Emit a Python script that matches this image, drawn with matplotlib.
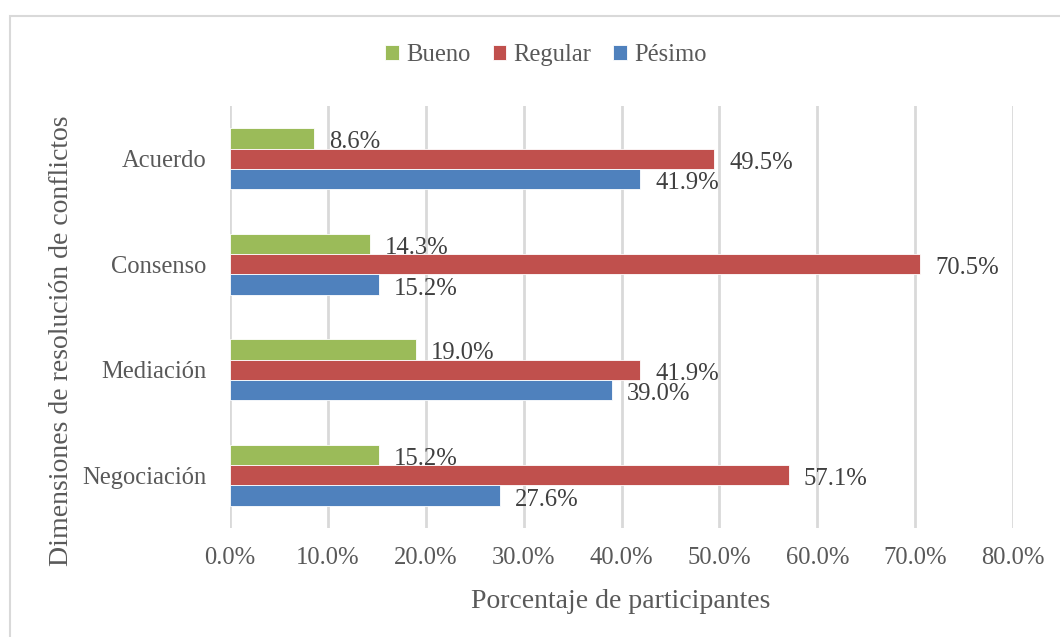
import matplotlib
matplotlib.use("Agg")
import matplotlib.pyplot as plt
import matplotlib.patches as mpatches
import numpy as np

plt.rcParams["font.family"] = ["Liberation Serif", "DejaVu Serif"]

categories = ["Acuerdo", "Consenso", "Mediación", "Negociación"]
series_names = ["Bueno", "Regular", "Pésimo"]
bueno = [8.6, 14.3, 19.0, 15.2]
regular = [49.5, 70.5, 41.9, 57.1]
pesimo = [41.9, 15.2, 39.0, 27.6]
xticks = [0, 10, 20, 30, 40, 50, 60, 70, 80]

colors = ["#9BBB59", "#C0504D", "#4F81BD"]
text_col = "#595959"
grid_col = "#D9D9D9"

fig = plt.figure(figsize=(10.6, 6.37), dpi=100)
ax = fig.add_axes([230 / 1060, 1 - 528 / 637, (1013 - 230) / 1060, (528 - 106) / 637])

# outer chart border (cropped on the right and bottom)
fig.patches.append(mpatches.Rectangle((10 / 1060, -0.1), 1.2, 1.1 - 16 / 637,
                                      transform=fig.transFigure, fill=False,
                                      edgecolor=grid_col, linewidth=1.5))

y = np.arange(len(categories))
h = 0.194
for vals, name, col, off in zip([bueno, regular, pesimo], series_names, colors, [-h, 0, h]):
    bars = ax.barh(y + off, vals, height=h, color=col, edgecolor="white",
                   linewidth=0.6, label=name, zorder=3)
    for b, v in zip(bars, vals):
        ax.annotate(f"{v:.1f}%", (b.get_width(), b.get_y() + b.get_height() / 2),
                    xytext=(15, -4), textcoords="offset pixels",
                    ha="left", va="center", fontsize=17.7, color="#404040", zorder=4)

ax.set_xlim(0, 80)
ax.set_ylim(3.5, -0.5)
ax.set_xticks(xticks)
ax.set_xticklabels([f"{t:.1f}%" for t in xticks])
ax.set_yticks(y)
ax.set_yticklabels(categories)
ax.tick_params(axis="both", length=0, labelsize=17.7, colors=text_col)
ax.tick_params(axis="x", pad=14)
ax.tick_params(axis="y", pad=17)
ax.grid(axis="x", color=grid_col, linewidth=2, zorder=0)
ax.set_axisbelow(True)
for s in ax.spines.values():
    s.set_visible(False)

fig.text(62 / 1060, 1 - 341 / 637, "Dimensiones de resolución de conflictos",
         rotation=90, ha="center", va="center", fontsize=20, color=text_col)
fig.text(621 / 1060, 1 - 601 / 637, "Porcentaje de participantes",
         ha="center", va="center", fontsize=20, color=text_col)

fig.legend(loc="center", bbox_to_anchor=(546 / 1060, 1 - 55 / 637), ncol=3,
           frameon=False, fontsize=17.7, handlelength=0.55, handleheight=0.55,
           handletextpad=0.3, columnspacing=0.9, labelcolor=text_col)

fig.savefig("out.png", dpi=100, facecolor="white")
